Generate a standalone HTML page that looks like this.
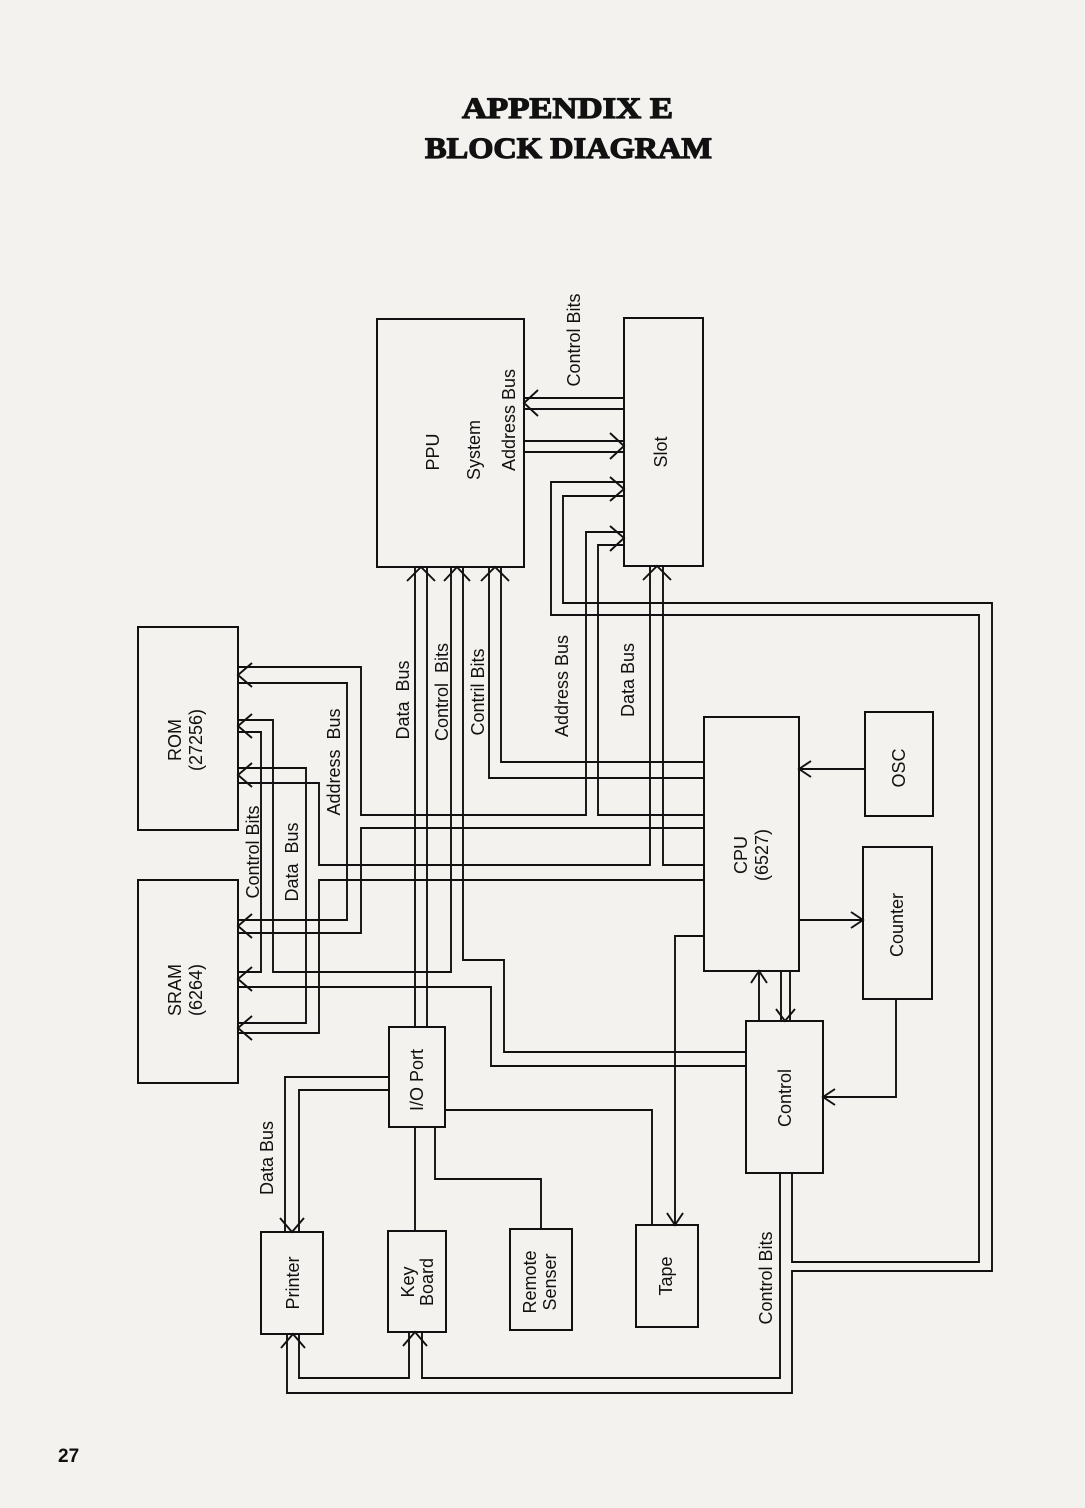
<!DOCTYPE html>
<html><head><meta charset="utf-8"><style>
html,body{margin:0;padding:0;background:#f3f2ef;}
svg{display:block;}
.l{fill:none;stroke:#111;stroke-width:1.9;stroke-linejoin:miter;}
.b{fill:none;stroke:#111;stroke-width:2;}
.t{font-family:"Liberation Sans",Arial,sans-serif;font-size:18px;fill:#111;text-anchor:middle;}
</style></head><body>
<svg width="1085" height="1508" viewBox="0 0 1085 1508" xmlns="http://www.w3.org/2000/svg">
<rect width="1085" height="1508" fill="#f3f2ef"/>
<!-- title -->
<text x="462" y="118" textLength="211" lengthAdjust="spacingAndGlyphs" style="font-family:'Liberation Serif',serif;font-weight:bold;font-size:30px;fill:#111;stroke:#111;stroke-width:1.2">APPENDIX E</text>
<text x="425" y="158" textLength="287" lengthAdjust="spacingAndGlyphs" style="font-family:'Liberation Serif',serif;font-weight:bold;font-size:30px;fill:#111;stroke:#111;stroke-width:1.2">BLOCK DIAGRAM</text>
<text x="58" y="1462" style="font-family:'Liberation Sans',sans-serif;font-weight:bold;font-size:19px;fill:#111">27</text>

<!-- boxes -->
<rect class="b" x="377" y="319" width="147" height="248"/>
<rect class="b" x="624" y="318" width="79" height="248"/>
<rect class="b" x="138" y="627" width="100" height="203"/>
<rect class="b" x="138" y="880" width="100" height="203"/>
<rect class="b" x="704" y="717" width="95" height="254"/>
<rect class="b" x="865" y="712" width="68" height="104"/>
<rect class="b" x="863" y="847" width="69" height="152"/>
<rect class="b" x="746" y="1021" width="77" height="152"/>
<rect class="b" x="389" y="1027" width="56" height="100"/>
<rect class="b" x="261" y="1232" width="62" height="102"/>
<rect class="b" x="388" y="1231" width="58" height="101"/>
<rect class="b" x="510" y="1229" width="62" height="101"/>
<rect class="b" x="636" y="1225" width="62" height="102"/>

<!-- PPU <-> Slot -->
<polyline class="l" points="624,398 524,398"/>
<polyline class="l" points="624,409 524,409"/>
<polyline class="l" points="538,390 524,403 538,416"/>
<polyline class="l" points="524,441 624,441"/>
<polyline class="l" points="524,452 624,452"/>
<polyline class="l" points="610,433 624,446 610,459"/>

<!-- Address bus -->
<polyline class="l" points="238,667 361,667 361,815 586,815 586,532 624,532"/>
<polyline class="l" points="703,815 598,815 598,545 624,545"/>
<polyline class="l" points="610,526 624,538 610,551"/>
<polyline class="l" points="238,683 347,683 347,920 238,920"/>
<polyline class="l" points="703,828 361,828 361,933 238,933"/>
<polyline class="l" points="252,663 238,675 252,687"/>
<polyline class="l" points="252,914 238,926 252,938"/>

<!-- Control bits -->
<polyline class="l" points="238,720 273,720 273,972 451,972 451,567"/>
<polyline class="l" points="238,732 261,732 261,972 238,972"/>
<polyline class="l" points="238,987 491,987 491,1066 746,1066"/>
<polyline class="l" points="463,567 463,960 504,960 504,1052 746,1052"/>
<polyline class="l" points="252,714 238,726 252,738"/>
<polyline class="l" points="252,967 238,979 252,991"/>
<polyline class="l" points="444,581 457,567 470,581"/>

<!-- Data bus -->
<polyline class="l" points="238,768 306,768 306,1023 238,1023"/>
<polyline class="l" points="238,783 319,783 319,865 650,865 650,566"/>
<polyline class="l" points="663,566 663,865 703,865"/>
<polyline class="l" points="703,880 319,880 319,1033 238,1033"/>
<polyline class="l" points="252,763 238,775 252,787"/>
<polyline class="l" points="252,1016 238,1028 252,1040"/>
<polyline class="l" points="643,580 657,566 671,580"/>

<!-- Contril bits -->
<polyline class="l" points="489,567 489,778 703,778"/>
<polyline class="l" points="501,567 501,762 703,762"/>
<polyline class="l" points="481,581 495,567 509,581"/>

<!-- PPU data bus to I/O -->
<polyline class="l" points="415,567 415,1027"/>
<polyline class="l" points="427,567 427,1027"/>
<polyline class="l" points="407,581 421,567 435,581"/>

<!-- Slot big loop -->
<polyline class="l" points="624,482 551,482 551,615 979,615 979,1262 792,1262 792,1173"/>
<polyline class="l" points="624,496 563,496 563,603 992,603 992,1271 792,1271 792,1393 287,1393 287,1334"/>
<polyline class="l" points="610,477 624,489 610,501"/>
<polyline class="l" points="780,1173 780,1378 422,1378 422,1332"/>
<polyline class="l" points="299,1334 299,1378 409,1378 409,1332"/>
<polyline class="l" points="281,1348 293,1334 305,1348"/>
<polyline class="l" points="403,1346 415,1332 427,1346"/>

<!-- right side -->
<polyline class="l" points="865,769 799,769"/>
<polyline class="l" points="811,761 799,769 811,777"/>
<polyline class="l" points="799,920 863,920"/>
<polyline class="l" points="851,912 863,920 851,928"/>
<polyline class="l" points="896,999 896,1097 823,1097"/>
<polyline class="l" points="835,1089 823,1097 835,1105"/>
<polyline class="l" points="759,1021 759,971"/>
<polyline class="l" points="751,983 759,971 767,983"/>
<polyline class="l" points="781,971 781,1021"/>
<polyline class="l" points="790,971 790,1021"/>
<polyline class="l" points="776,1009 785,1021 795,1009"/>
<polyline class="l" points="703,936 675,936 675,1225"/>
<polyline class="l" points="667,1213 675,1225 683,1213"/>

<!-- I/O port -->
<polyline class="l" points="389,1077 285,1077 285,1232"/>
<polyline class="l" points="389,1090 299,1090 299,1232"/>
<polyline class="l" points="280,1218 292,1232 304,1218"/>
<polyline class="l" points="445,1110 652,1110 652,1225"/>
<polyline class="l" points="415,1127 415,1231"/>
<polyline class="l" points="435,1127 435,1179 541,1179 541,1229"/>

<!-- labels (rotated) -->
<g class="t">
<text transform="translate(580,340) rotate(-90)">Control Bits</text>
<text transform="translate(439,452) rotate(-90)">PPU</text>
<text transform="translate(480,450) rotate(-90)">System</text>
<text transform="translate(515,420) rotate(-90)">Address Bus</text>
<text transform="translate(667,452) rotate(-90)">Slot</text>
<text transform="translate(181,740) rotate(-90)">ROM</text>
<text transform="translate(202,740) rotate(-90)">(27256)</text>
<text transform="translate(181,990) rotate(-90)">SRAM</text>
<text transform="translate(202,990) rotate(-90)">(6264)</text>
<text transform="translate(259,852) rotate(-90)">Control Bits</text>
<text transform="translate(298,862) rotate(-90)" xml:space="preserve">Data  Bus</text>
<text transform="translate(340,762) rotate(-90)" xml:space="preserve">Address  Bus</text>
<text transform="translate(409,700) rotate(-90)" xml:space="preserve">Data  Bus</text>
<text transform="translate(448,692) rotate(-90)" xml:space="preserve">Control  Bits</text>
<text transform="translate(484,692) rotate(-90)">Contril Bits</text>
<text transform="translate(568,686) rotate(-90)">Address Bus</text>
<text transform="translate(634,680) rotate(-90)">Data Bus</text>
<text transform="translate(747,855) rotate(-90)">CPU</text>
<text transform="translate(768,855) rotate(-90)">(6527)</text>
<text transform="translate(905,768) rotate(-90)">OSC</text>
<text transform="translate(903,925) rotate(-90)">Counter</text>
<text transform="translate(791,1098) rotate(-90)">Control</text>
<text transform="translate(423,1080) rotate(-90)">I/O Port</text>
<text transform="translate(273,1158) rotate(-90)">Data Bus</text>
<text transform="translate(299,1283) rotate(-90)">Printer</text>
<text transform="translate(414,1282) rotate(-90)">Key</text>
<text transform="translate(433,1282) rotate(-90)">Board</text>
<text transform="translate(536,1282) rotate(-90)">Remote</text>
<text transform="translate(556,1282) rotate(-90)">Senser</text>
<text transform="translate(672,1276) rotate(-90)">Tape</text>
<text transform="translate(772,1278) rotate(-90)">Control Bits</text>
</g>
</svg>
</body></html>
